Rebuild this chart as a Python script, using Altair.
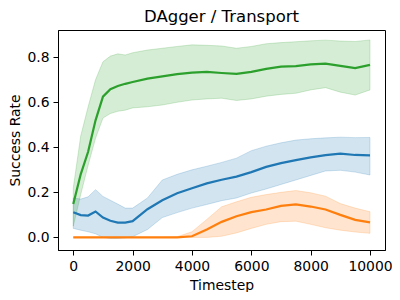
import altair as alt
import pandas as pd

timesteps = [0, 250, 500, 750, 1000, 1250, 1500, 1750, 2000, 2500, 3000, 3500,
             4000, 4500, 5000, 5500, 6000, 6500, 7000, 7500, 8000, 8500, 9000,
             9500, 10000]

blue_mean = [0.112, 0.099, 0.097, 0.115, 0.088, 0.074, 0.066, 0.066, 0.072, 0.125,
             0.165, 0.196, 0.218, 0.240, 0.256, 0.270, 0.290, 0.313, 0.330, 0.343,
             0.355, 0.365, 0.372, 0.366, 0.364]
blue_hi = [0.175, 0.170, 0.180, 0.212, 0.182, 0.165, 0.148, 0.130, 0.130, 0.175,
           0.255, 0.280, 0.300, 0.316, 0.333, 0.352, 0.385, 0.405, 0.420, 0.432,
           0.438, 0.442, 0.445, 0.443, 0.444]
blue_lo = [0.040, 0.032, 0.025, 0.016, 0.000, -0.005, -0.005, -0.002, 0.003, 0.035,
           0.088, 0.110, 0.130, 0.146, 0.163, 0.175, 0.197, 0.215, 0.235, 0.255,
           0.275, 0.295, 0.298, 0.290, 0.277]

orange_mean = [0, 0, 0, 0, 0, 0, 0, 0, 0, 0, 0, 0,
               0.005, 0.035, 0.069, 0.094, 0.112, 0.124, 0.140, 0.147, 0.137, 0.124,
               0.100, 0.078, 0.067]
orange_hi = [0, 0, 0, 0, 0, 0, 0, 0, 0, 0, 0, 0.003,
             0.025, 0.080, 0.136, 0.158, 0.178, 0.190, 0.200, 0.208, 0.198, 0.183,
             0.150, 0.130, 0.114]
orange_lo = [0, 0, 0, 0, 0, 0, 0, 0, 0, 0, 0, 0,
             0, 0, 0.005, 0.020, 0.040, 0.058, 0.070, 0.072, 0.058, 0.043,
             0.032, 0.024, 0.018]

green_mean = [0.148, 0.280, 0.380, 0.520, 0.625, 0.658, 0.672, 0.682, 0.690, 0.705,
              0.715, 0.725, 0.732, 0.735, 0.730, 0.726, 0.735, 0.748, 0.758, 0.761,
              0.768, 0.772, 0.762, 0.752, 0.766]
green_hi = [0.220, 0.450, 0.580, 0.700, 0.780, 0.805, 0.815, 0.810, 0.820, 0.832,
            0.840, 0.848, 0.855, 0.853, 0.850, 0.840, 0.848, 0.860, 0.865, 0.869,
            0.873, 0.876, 0.872, 0.870, 0.877]
green_lo = [0.050, 0.190, 0.320, 0.440, 0.530, 0.550, 0.560, 0.565, 0.575, 0.580,
            0.588, 0.600, 0.610, 0.615, 0.618, 0.608, 0.615, 0.627, 0.635, 0.640,
            0.655, 0.665, 0.645, 0.632, 0.655]

series_names = ["run 1", "run 2", "run 3"]
series_colors = ["#1f77b4", "#ff7f0e", "#2ca02c"]

rows = []
for name, m, lo, hi in zip(series_names,
                           [blue_mean, orange_mean, green_mean],
                           [blue_lo, orange_lo, green_lo],
                           [blue_hi, orange_hi, green_hi]):
    for t, a, b, c in zip(timesteps, m, lo, hi):
        rows.append({"t": t, "series": name, "mean": a, "lo": b, "hi": c})
df = pd.DataFrame(rows)

font = "DejaVu Sans"
color = alt.Color("series:N", scale=alt.Scale(domain=series_names, range=series_colors),
                  legend=None)

x = alt.X("t:Q", title="Timestep",
          scale=alt.Scale(domain=[-515, 10505], nice=False, zero=False),
          axis=alt.Axis(values=[0, 2000, 4000, 6000, 8000, 10000], format="d",
                        titlePadding=6))
y_scale = alt.Scale(domain=[-0.056, 0.921], nice=False, zero=False)

bands = alt.Chart(df).mark_area(fillOpacity=0.2, strokeOpacity=0.2, strokeWidth=1).encode(
    x=x,
    y=alt.Y("lo:Q", scale=y_scale, title="Success Rate",
            axis=alt.Axis(values=[0, 0.2, 0.4, 0.6, 0.8], format=".1f", titlePadding=4)),
    y2="hi:Q",
    color=color,
    stroke=alt.Stroke("series:N", scale=alt.Scale(domain=series_names, range=series_colors),
                      legend=None),
    detail="series:N",
)

lines = alt.Chart(df).mark_line(strokeWidth=2.2).encode(
    x=x,
    y=alt.Y("mean:Q", scale=y_scale),
    color=color,
)

chart = alt.layer(bands, lines).properties(
    width=327, height=220,
    title=alt.TitleParams("DAgger / Transport", fontSize=16.5, font=font,
                          fontWeight="normal", color="black", offset=5),
    autosize=alt.AutoSizeParams(type="none"),
    padding={"left": 50, "top": 22, "right": 7, "bottom": 42},
).configure_view(
    stroke="black", strokeWidth=1
).configure_axis(
    grid=False, domainColor="black", tickColor="black", tickSize=5,
    labelFont=font, labelFontSize=13.9, labelColor="black", labelPadding=4,
    titleFont=font, titleFontSize=13.9, titleFontWeight="normal", titleColor="black",
)

chart.save("out.html", embed_options={"renderer": "svg", "actions": False})
